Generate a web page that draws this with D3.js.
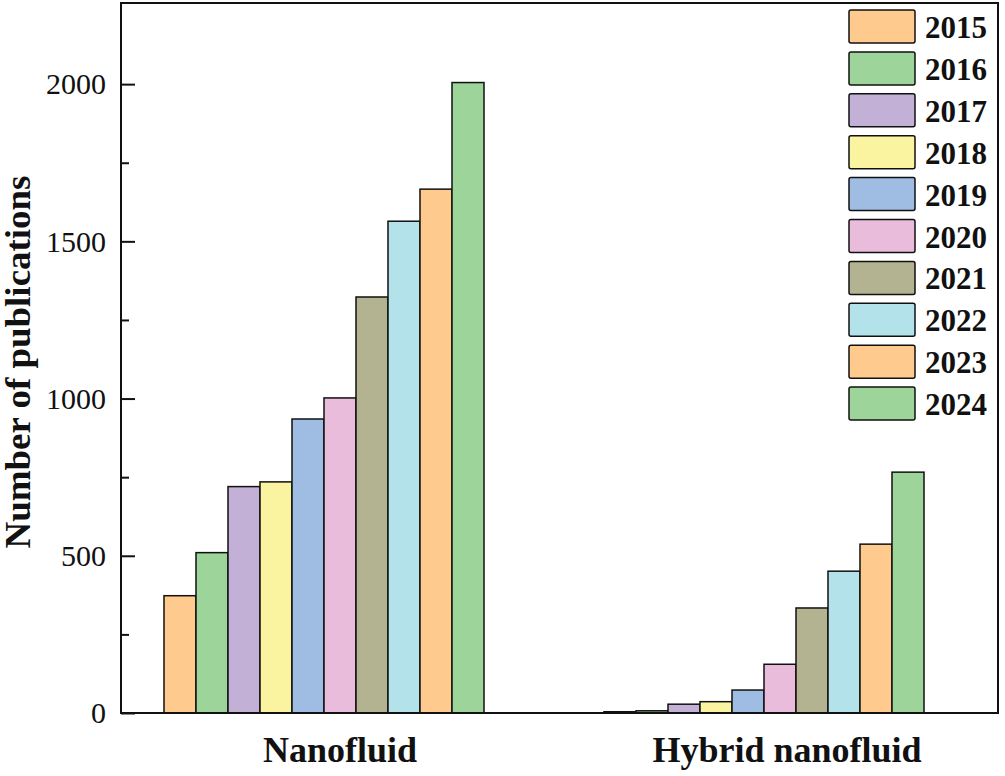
<!DOCTYPE html>
<html><head><meta charset="utf-8">
<script src="https://cdn.jsdelivr.net/npm/d3@7"></script>
<style>body{margin:0;background:#fff}</style>
</head><body>
<svg id="c" width="1005" height="776"></svg>
<script>
const groups = ["Nanofluid", "Hybrid nanofluid"];
const years = ["2015","2016","2017","2018","2019","2020","2021","2022","2023","2024"];
const nanofluid = [373, 510, 720, 735, 935, 1002, 1323, 1564, 1666, 2005];
const hybrid = [4, 7, 28, 36, 73, 155, 334, 451, 537, 766];
const colors = ["#FFCA8E","#9CD49A","#C2B0D6","#FAF3A0","#9FBCE3","#E9BCDB","#B3B391","#B4E2EA","#FFCA8E","#9CD49A"];
const yTicks = [0, 500, 1000, 1500, 2000];

const svg = d3.select("#c");
const L = 121, T = 3, R = 998, B = 713;
const y = d3.scaleLinear().domain([0, 2258]).range([B, T]);
const x0 = d3.scaleBand().domain(groups).range([104, 984]);
const x1 = d3.scaleBand().domain(years).range([0, x0.bandwidth()]).paddingInner(0).paddingOuter(1.875);
const color = d3.scaleOrdinal().domain(years).range(colors);

const data = groups.map((g, gi) => ({g, vals: (gi === 0 ? nanofluid : hybrid)}));

// bars
const gg = svg.append("g").selectAll("g").data(data).join("g")
  .attr("transform", d => `translate(${x0(d.g)},0)`);
gg.selectAll("rect").data(d => d.vals.map((v, i) => ({v, yr: years[i]}))).join("rect")
  .attr("x", d => x1(d.yr)).attr("width", x1.bandwidth())
  .attr("y", d => y(d.v)).attr("height", d => B - y(d.v))
  .attr("fill", d => color(d.yr)).attr("stroke", "#111").attr("stroke-width", 1.5);

// y axis major ticks
const yAxis = d3.axisRight(y).tickValues(yTicks).tickSize(14).tickFormat("");
const ya = svg.append("g").attr("transform", `translate(${L},0)`).call(yAxis);
ya.select(".domain").remove();
ya.selectAll("line").attr("stroke", "#111").attr("stroke-width", 2);
const minor = d3.axisRight(y).tickValues([250, 750, 1250, 1750]).tickSize(8).tickFormat("");
const ym = svg.append("g").attr("transform", `translate(${L},0)`).call(minor);
ym.select(".domain").remove();
ym.selectAll("line").attr("stroke", "#111").attr("stroke-width", 2);

// y tick labels
svg.append("g").selectAll("text").data(yTicks).join("text")
  .attr("x", 106).attr("y", d => y(d)).attr("dy", "0.34em")
  .attr("text-anchor", "end").attr("font-family", "Liberation Serif").attr("font-size", 30)
  .attr("fill", "#111").text(d => d);

// frame
svg.append("rect").attr("x", L).attr("y", T).attr("width", R - L).attr("height", B - T)
  .attr("fill", "none").attr("stroke", "#111").attr("stroke-width", 2);

// x labels
svg.append("g").selectAll("text").data(groups).join("text")
  .attr("x", (d, i) => x0(d) + x0.bandwidth() / 2 + (i === 0 ? 16 : 23)).attr("y", 762)
  .attr("text-anchor", "middle").attr("font-family", "Liberation Serif").attr("font-weight", "bold")
  .attr("font-size", 36).attr("fill", "#111").text(d => d);

// y title
svg.append("text").attr("transform", "translate(30,362) rotate(-90)")
  .attr("text-anchor", "middle").attr("font-family", "Liberation Serif").attr("font-weight", "bold")
  .attr("font-size", 35).attr("textLength", 373).attr("lengthAdjust", "spacingAndGlyphs")
  .attr("fill", "#111").text("Number of publications");

// legend
const lg = svg.append("g").selectAll("g").data(years).join("g")
  .attr("transform", (d, i) => `translate(849,${10 + i * 41.9})`);
lg.append("rect").attr("width", 66).attr("height", 33).attr("rx", 2)
  .attr("fill", d => color(d)).attr("stroke", "#111").attr("stroke-width", 1.5);
lg.append("text").attr("x", 76).attr("y", 28).attr("font-family", "Liberation Serif")
  .attr("font-weight", "bold").attr("font-size", 31).attr("fill", "#111").text(d => d);
</script>
</body></html>
